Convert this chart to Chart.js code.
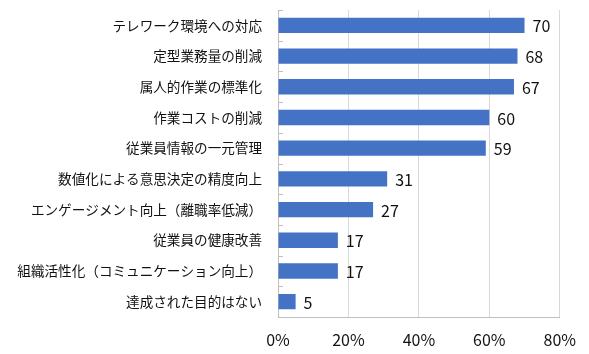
<!DOCTYPE html>
<html>
<head>
<meta charset="utf-8">
<script src="https://cdn.jsdelivr.net/npm/chart.js@4/dist/chart.umd.min.js"></script>
<style>
  html, body { margin: 0; padding: 0; background: #fff; }
  #wrap { width: 589px; height: 354px; }
</style>
</head>
<body>
<div id="wrap"><canvas id="chart" width="589" height="354"></canvas></div>
<script>
// 項目と回答率
const categories = [
  "テレワーク環境への対応",
  "定型業務量の削減",
  "属人的作業の標準化",
  "作業コストの削減",
  "従業員情報の一元管理",
  "数値化による意思決定の精度向上",
  "エンゲージメント向上（離職率低減）",
  "従業員の健康改善",
  "組織活性化（コミュニケーション向上）",
  "達成された目的はない",
];
const values = [70, 68, 67, 60, 59, 31, 27, 17, 17, 5];
const xTicks = [0, 20, 40, 60, 80];

const FONT = "'Noto Sans CJK JP', 'Noto Sans', sans-serif";

// バーの右に数値を表示 + y軸の内側目盛り
const labelPlugin = {
  id: "barLabels",
  afterDatasetsDraw(chart) {
    const ctx = chart.ctx;
    const meta = chart.getDatasetMeta(0);
    ctx.save();
    ctx.font = "16px " + FONT;
    ctx.fillStyle = "#111";
    ctx.textBaseline = "middle";
    ctx.textAlign = "left";
    meta.data.forEach((bar, i) => {
      ctx.fillText(String(values[i]), bar.x + 8, bar.y + 1);
    });
    // 目盛り (内側)
    const y = chart.scales.y;
    const x0 = chart.scales.x.getPixelForValue(0);
    ctx.strokeStyle = "#bfbfbf";
    ctx.lineWidth = 1;
    for (let i = 0; i <= categories.length; i++) {
      const py = Math.round(y.getPixelForValue(i - 0.5)) + 0.5;
      ctx.beginPath();
      ctx.moveTo(x0, py);
      ctx.lineTo(x0 + 5, py);
      ctx.stroke();
    }
    ctx.restore();
  },
};

new Chart(document.getElementById("chart"), {
  type: "bar",
  data: {
    labels: categories,
    datasets: [
      {
        data: values,
        backgroundColor: "#4472C4",
        barPercentage: 0.5,
        categoryPercentage: 1,
      },
    ],
  },
  options: {
    indexAxis: "y",
    responsive: false,
    animation: false,
    layout: { padding: { left: 0, right: 29, top: 10, bottom: 0 } },
    plugins: { legend: { display: false }, tooltip: { enabled: false } },
    scales: {
      x: {
        min: 0,
        max: 80,
        afterBuildTicks: (s) => { s.ticks = xTicks.map((v) => ({ value: v })); },
        afterFit: (s) => { s.height = 37; },
        ticks: {
          callback: (v) => v + "%",
          font: { size: 16, family: FONT },
          color: "#111",
          padding: 13,
        },
        grid: { color: "#d9d9d9", drawTicks: false },
        border: { color: "#bfbfbf" },
      },
      y: {
        afterFit: (s) => {
          s.width = 278;
          s.paddingTop = 0;
          s.paddingBottom = 0;
        },
        ticks: {
          font: { size: 13.6, family: FONT },
          color: "#111",
          padding: 16,
          autoSkip: false,
        },
        grid: { display: false, drawTicks: false },
        border: { color: "#bfbfbf" },
      },
    },
  },
  plugins: [labelPlugin],
});
</script>
</body>
</html>
